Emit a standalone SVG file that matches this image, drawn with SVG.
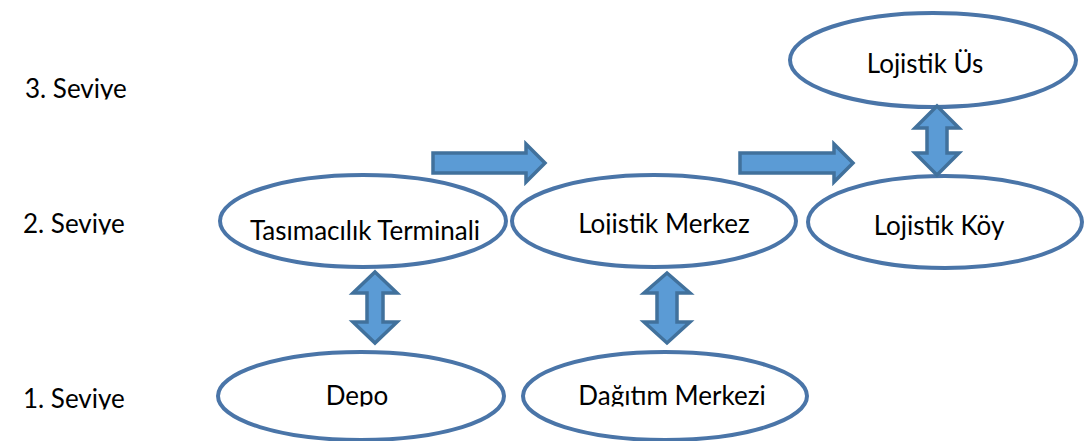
<svg xmlns="http://www.w3.org/2000/svg" width="1084" height="441" viewBox="0 0 1084 441">
<style>
.node ellipse{fill:#ffffff;stroke:#4A75A8;stroke-width:4}
text{font-family:Lato,"Liberation Sans",sans-serif;font-size:26px;fill:#000000}
.c{text-anchor:middle}
.arrow{fill:#5B9BD5;stroke:#41719C;stroke-width:3.5;stroke-linejoin:miter}
</style>
<defs>
<clipPath id="cl3"><rect x="0" y="60" width="200" height="39.5"/></clipPath>
<clipPath id="cl2"><rect x="0" y="200" width="200" height="34.5"/></clipPath>
<clipPath id="cl1"><rect x="0" y="370" width="200" height="39.5"/></clipPath>
<clipPath id="clM"><rect x="560" y="200" width="220" height="34.5"/></clipPath>
<clipPath id="clD"><rect x="300" y="370" width="120" height="36.5"/></clipPath>
<clipPath id="clDM"><rect x="560" y="370" width="220" height="36.5"/></clipPath>
</defs>
<g id="levels">
<text x="25" y="98" clip-path="url(#cl3)">3. Seviye</text>
<text x="23" y="233" clip-path="url(#cl2)">2. Seviye</text>
<text x="23" y="408" clip-path="url(#cl1)">1. Seviye</text>
</g>
<g id="node-terminal" class="node">
<ellipse cx="363" cy="221" rx="143" ry="46"/>
<text class="c" x="365" y="240">Tasımacılık Terminali</text>
</g>
<g id="node-merkez" class="node">
<ellipse cx="654" cy="221" rx="142" ry="46"/>
<text class="c" x="664" y="233" clip-path="url(#clM)">Lojistik Merkez</text>
</g>
<g id="node-koy" class="node">
<ellipse cx="945" cy="222" rx="137" ry="46"/>
<text class="c" x="939" y="235">Lojistik Köy</text>
</g>
<g id="node-us" class="node">
<ellipse cx="933" cy="60" rx="143" ry="47"/>
<text class="c" x="925" y="73">Lojistik Üs</text>
</g>
<g id="node-depo" class="node">
<ellipse cx="361" cy="396" rx="143" ry="44"/>
<text class="c" x="357" y="405" clip-path="url(#clD)">Depo</text>
</g>
<g id="node-dagitim" class="node">
<ellipse cx="665" cy="396" rx="142" ry="44"/>
<text class="c" x="672" y="405" clip-path="url(#clDM)">Dağıtım Merkezi</text>
</g>
<g id="connectors">
<path class="arrow" d="M433,153 H526 V144 L545,163 L526,182 V173 H433 Z"/>
<path class="arrow" d="M740,153 H834 V144 L853,163 L834,182 V173 H740 Z"/>
<path class="arrow" d="M375,272 L397,293 H383 V322 H397 L375,343 L353,322 H367 V293 H353 Z"/>
<path class="arrow" d="M667,273 L690,293 H677 V322 H690 L667,343 L644,322 H657 V293 H644 Z"/>
<path class="arrow" d="M937,106 L959,128 H947 V153 H959 L937,175 L915,153 H927 V128 H915 Z"/>
</g>
</svg>
